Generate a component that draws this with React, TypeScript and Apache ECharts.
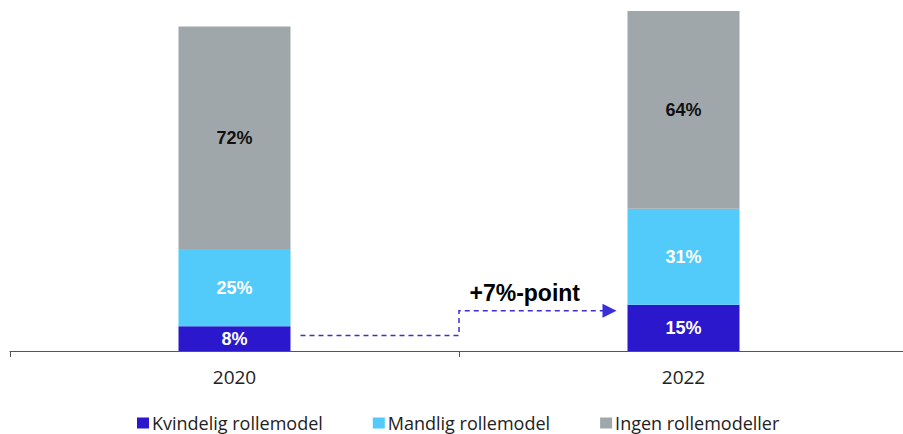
import React, { useEffect, useRef } from "react";
import * as echarts from "echarts";

const categories = ["2020", "2022"];
const seriesNames = ["Kvindelig rollemodel", "Mandlig rollemodel", "Ingen rollemodeller"];
const kvindelig = [8, 15];
const mandlig = [25, 31];
const ingen = [72, 64];
const colors = ["#2B18CC", "#52CAFA", "#A0A7AA"];
const labelColors = ["#FFFFFF", "#FFFFFF", "#111111"];
const annotationText = "+7%-point";
const arrowLowValue = 5;
const arrowHighValue = 13;

export default function App() {
  const ref = useRef<HTMLDivElement>(null);
  useEffect(() => {
    if (!ref.current) return;
    const chart = echarts.init(ref.current, null, { renderer: "svg" });
    const data = [kvindelig, mandlig, ingen];
    const option: any = {
      animation: false,
      grid: { left: 10, right: 2, top: 11, bottom: 83 },
      legend: {
        top: 414,
        left: 137,
        padding: 0,
        itemWidth: 12,
        itemHeight: 11,
        itemGap: 50,
        icon: "rect",
        textStyle: {
          fontFamily: "Open Sans",
          fontSize: 18,
          lineHeight: 18,
          color: "#222",
          padding: [0, 0, 0, -2],
        },
        data: seriesNames,
      },
      xAxis: {
        type: "category",
        data: categories,
        axisLine: { lineStyle: { color: "#555", width: 1 } },
        axisTick: { show: true, length: 6, lineStyle: { color: "#555" } },
        axisLabel: { fontFamily: "Open Sans", fontSize: 19, color: "#222", margin: 16 },
      },
      yAxis: { type: "value", min: 0, max: 110, show: false, splitLine: { show: false } },
      series: seriesNames.map((name, i) => ({
        name,
        type: "bar",
        stack: "total",
        barWidth: 112,
        data: data[i],
        itemStyle: { color: colors[i] },
        label: {
          show: true,
          position: "inside",
          formatter: "{c}%",
          color: labelColors[i],
          fontFamily: "Liberation Sans",
          fontWeight: "bold",
          fontSize: 18,
        },
      })),
    };
    chart.setOption(option);

    const p0 = chart.convertToPixel({ xAxisIndex: 0, yAxisIndex: 0 }, [0, arrowLowValue]) as number[];
    const p1 = chart.convertToPixel({ xAxisIndex: 0, yAxisIndex: 0 }, [1, arrowHighValue]) as number[];
    const halfBar = 56;
    const mid = (p0[0] + p1[0]) / 2;
    const startX = p0[0] + halfBar + 10;
    const tipX = p1[0] - halfBar - 11;
    const lowY = p0[1];
    const highY = p1[1];
    const lineColor = "#3A2FD6";
    chart.setOption({
      graphic: [
        {
          type: "polyline",
          shape: { points: [[startX, lowY], [mid, lowY], [mid, highY], [tipX - 12, highY]] },
          style: { stroke: lineColor, lineWidth: 1.5, lineDash: [5, 4], fill: null },
        },
        {
          type: "polygon",
          shape: { points: [[tipX - 14, highY - 7], [tipX, highY], [tipX - 14, highY + 7]] },
          style: { fill: lineColor },
        },
        {
          type: "text",
          x: (mid + tipX) / 2 - 13,
          y: highY - 18,
          style: {
            text: annotationText,
            fill: "#000",
            font: "bold 23px 'Liberation Sans'",
            textAlign: "center",
            textVerticalAlign: "middle",
          },
        },
      ],
    });
    return () => chart.dispose();
  }, []);
  return (
    <div style={{ position: "absolute", left: 0, top: 0, width: 903, height: 434, overflow: "hidden" }}>
      <div ref={ref} style={{ width: 910, height: 434 }} />
    </div>
  );
}
